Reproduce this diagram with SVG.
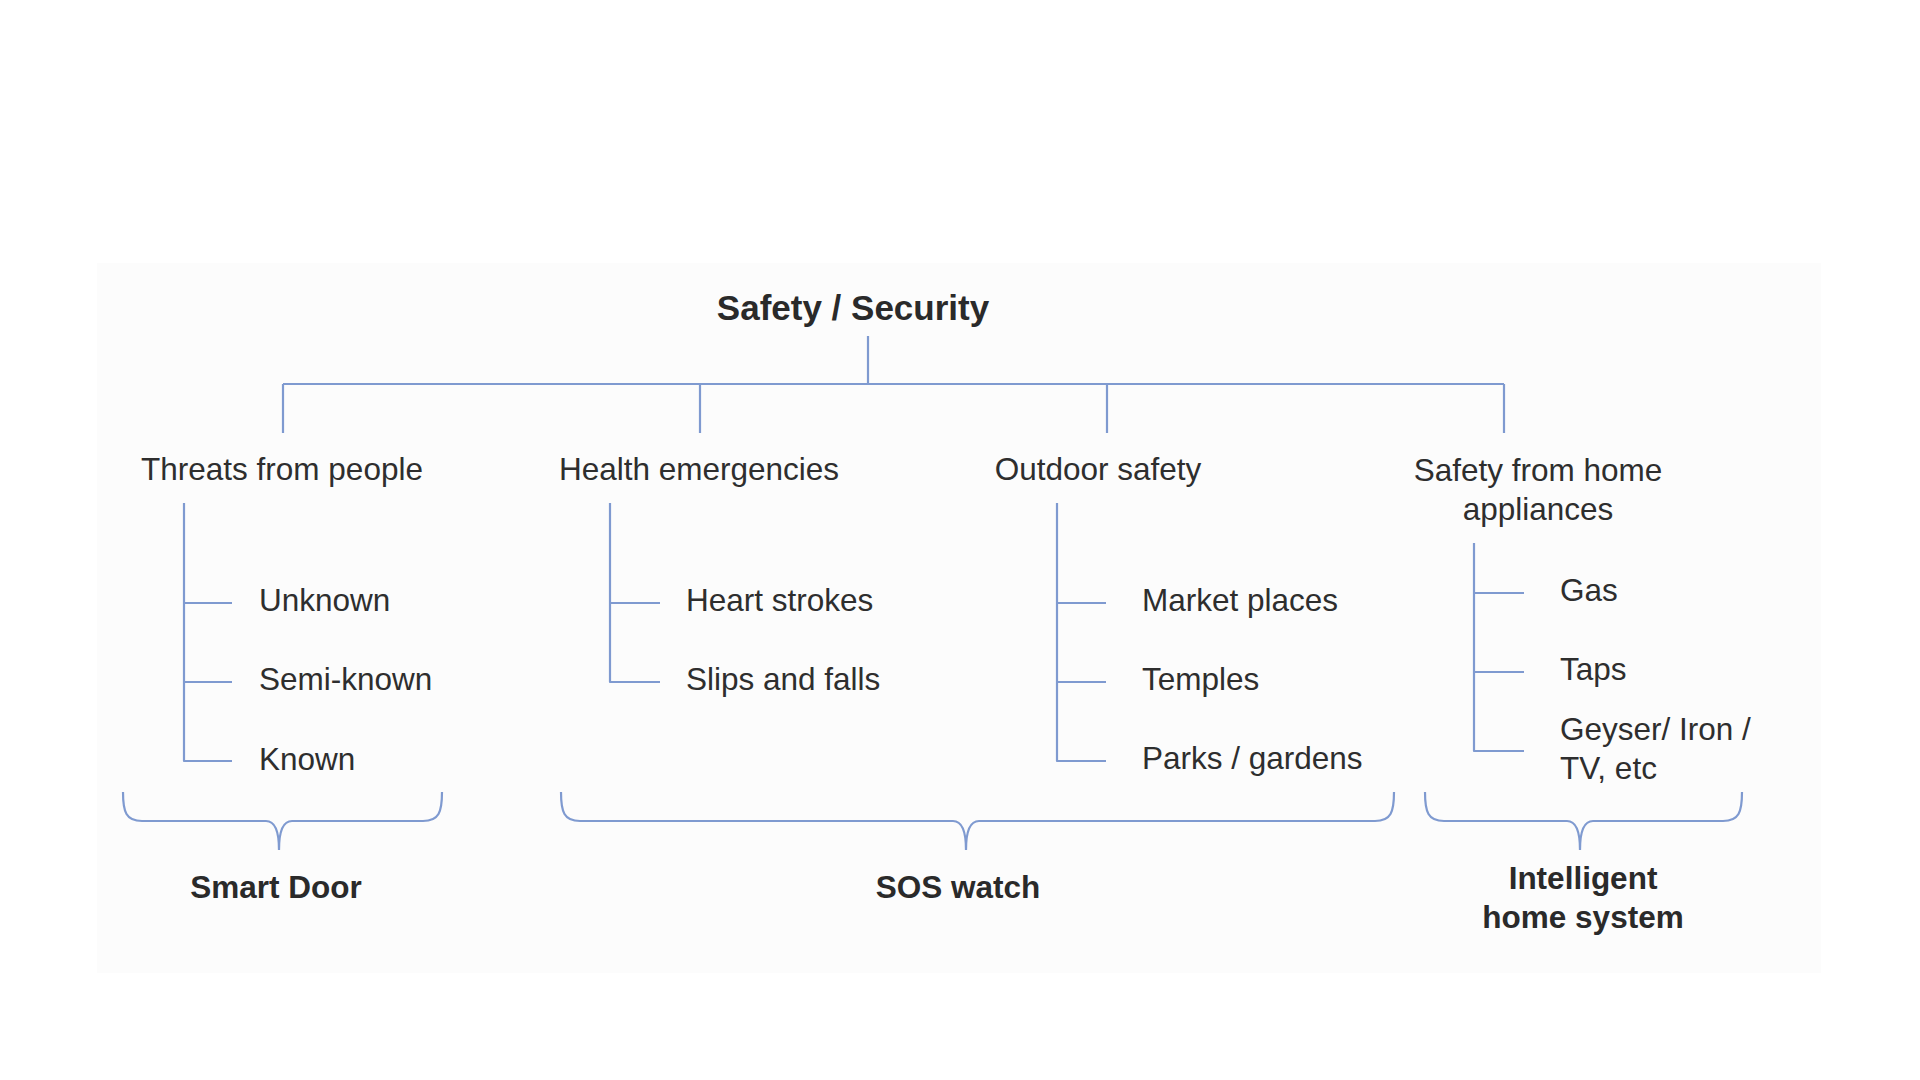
<svg xmlns="http://www.w3.org/2000/svg" width="1920" height="1080" viewBox="0 0 1920 1080">
<style>
.ln{fill:none;stroke:#7f9ad0;stroke-width:2.2;stroke-linecap:butt;stroke-linejoin:round}
.t{font-family:"Liberation Sans",Arial,sans-serif;font-size:31.5px;fill:#2e2e2e}
.c{text-anchor:middle}
.b{font-weight:bold;fill:#2a2a2a}
</style>
<rect x="0" y="0" width="1920" height="1080" fill="#ffffff"/>
<rect x="97" y="263" width="1724" height="710" fill="#fcfcfc"/>
<g id="title"><text class="t b c" x="853" y="320" style="font-size:35px">Safety / Security</text></g>
<g id="cat-threats"><text class="t c" x="282" y="480">Threats from people</text></g>
<g id="cat-health"><text class="t c" x="699" y="480">Health emergencies</text></g>
<g id="cat-outdoor"><text class="t c" x="1098" y="480">Outdoor safety</text></g>
<g id="cat-home"><text class="t c" x="1538" y="481">Safety from home</text><text class="t c" x="1538" y="520">appliances</text></g>
<g id="item-unknown"><text class="t" x="259" y="611">Unknown</text></g>
<g id="item-semiknown"><text class="t" x="259" y="690">Semi-known</text></g>
<g id="item-known"><text class="t" x="259" y="770">Known</text></g>
<g id="item-heart"><text class="t" x="686" y="611">Heart strokes</text></g>
<g id="item-slips"><text class="t" x="686" y="690">Slips and falls</text></g>
<g id="item-market"><text class="t" x="1142" y="611">Market places</text></g>
<g id="item-temples"><text class="t" x="1142" y="690">Temples</text></g>
<g id="item-parks"><text class="t" x="1142" y="769">Parks / gardens</text></g>
<g id="item-gas"><text class="t" x="1560" y="601">Gas</text></g>
<g id="item-taps"><text class="t" x="1560" y="680">Taps</text></g>
<g id="item-geyser"><text class="t" x="1560" y="740">Geyser/ Iron /</text><text class="t" x="1560" y="779">TV, etc</text></g>
<g id="group-smartdoor"><text class="t b c" x="276" y="898">Smart Door</text></g>
<g id="group-sos"><text class="t b c" x="958" y="898">SOS watch</text></g>
<g id="group-intelligent"><text class="t b c" x="1583" y="889">Intelligent</text><text class="t b c" x="1583" y="928">home system</text></g>
<g id="connectors" class="ln">
<path d="M868 336 V384 M283 384 H1504 M283 384 V433 M700 384 V433 M1107 384 V433 M1504 384 V433"/>
<path d="M184 503 V761 H232 M184 603 H232 M184 682 H232"/>
<path d="M610 503 V682 H660 M610 603 H660"/>
<path d="M1057 503 V761 H1106 M1057 603 H1106 M1057 682 H1106"/>
<path d="M1474 543 V751 H1524 M1474 593 H1524 M1474 672 H1524"/>
<path d="M123 792 C123 812 126 821 142 821 L266 821 C274 821 279 830 279 850 M442 792 C442 812 439 821 423 821 L292 821 C284 821 279 830 279 850"/>
<path d="M561 792 C561 812 564 821 580 821 L953 821 C961 821 966 830 966 850 M1394 792 C1394 812 1391 821 1375 821 L979 821 C971 821 966 830 966 850"/>
<path d="M1425 792 C1425 812 1428 821 1444 821 L1567 821 C1575 821 1580 830 1580 850 M1742 792 C1742 812 1739 821 1723 821 L1593 821 C1585 821 1580 830 1580 850"/>
</g>
</svg>
